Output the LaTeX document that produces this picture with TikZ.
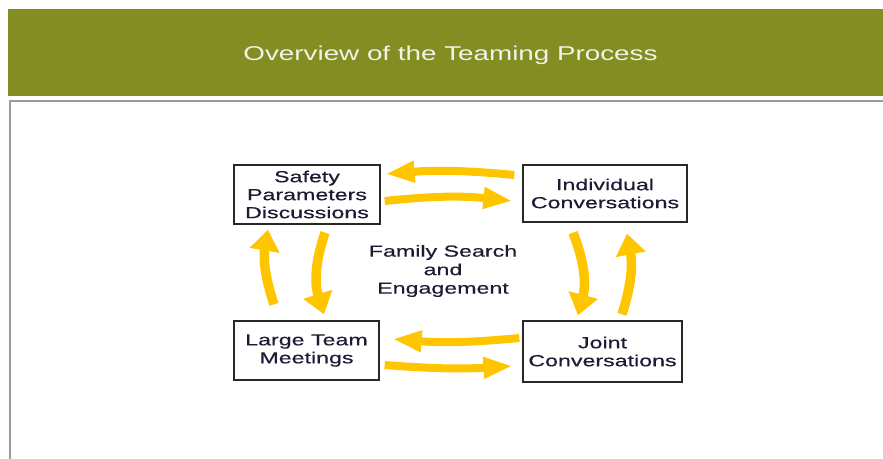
\documentclass[tikz,border=0pt]{standalone}
\usepackage{fontspec}
\newfontfamily\titlefont[FakeStretch=1.39]{Liberation Sans}
\newfontfamily\labelfont[FakeStretch=1.45,FakeBold=0.4]{Liberation Sans}
\usetikzlibrary{arrows.meta}
\usetikzlibrary{calc}
\usetikzlibrary{positioning}

\definecolor{bandgreen}{RGB}{131,141,34}
\definecolor{titletext}{RGB}{240,244,232}
\definecolor{framegray}{RGB}{155,155,155}
\definecolor{boxline}{RGB}{40,40,40}
\definecolor{ink}{RGB}{28,28,52}
\definecolor{gold}{RGB}{255,198,0}

\begin{document}
\begin{tikzpicture}[x=1pt,y=1pt,
    stage/.style={draw=boxline,line width=1.3pt,fill=white,text=ink,
        align=center,inner sep=0pt,minimum height=59pt,
        font=\labelfont\fontsize{16}{18}\selectfont},
    hflow/.style={draw=gold,line width=8pt,
        -{Triangle[length=29pt,width=20pt]}},
    vflow/.style={draw=gold,line width=9.5pt,
        -{Triangle[length=21pt,width=29pt]}}]
    \clip (0,0) rectangle (883,458);
    \fill [white] (0,0) rectangle (883,458);
    % Header band
    \fill [bandgreen] (8,362) rectangle (890,449);
    \node [font=\titlefont\fontsize{20}{24}\selectfont,text=titletext,
        anchor=base] (title) at (450.5,397.5)
        {Overview of the Teaming Process};
    % Content frame
    \draw [framegray,line width=2.2pt] (10,-20) |- (900,357);
    % The four stages
    \node [stage,minimum width=146pt] (safety) at (307,263.5)
        {Safety\\Parameters\\Discussions};
    \node [stage,minimum width=164pt,minimum height=57pt] (individual)
        at (605,264.5) {Individual\\Conversations};
    \node [stage,minimum width=145pt] (teams) at (306.5,107.5)
        {Large Team\\Meetings};
    \node [stage,minimum width=159pt,minimum height=61pt] (joint)
        at (602.5,106.5) {Joint\\Conversations};
    \node [font=\labelfont\fontsize{16}{18.5}\selectfont,text=ink,
        align=center] (search) at (443,187)
        {Family Search\\and\\Engagement};
    % Top pair
    \draw [hflow] ($(individual.west)+(-8,18.5)$) to[bend right=5]
        ($(safety.east)+(5,20.5)$);
    \draw [hflow] ($(safety.east)+(4,-6.5)$) to[bend left=6]
        ($(individual.west)+(-10,-7.5)$);
    % Left pair
    \draw [vflow] ($(teams.north)+(-32.5,16)$) to[bend left=14]
        ($(safety.south)+(-39,-5)$);
    \draw [vflow] ($(safety.south)+(18,-8)$) to[bend right=18]
        ($(teams.north)+(17.5,6)$);
    % Right pair
    \draw [vflow] ($(individual.south)+(-32,-10)$) to[bend left=18]
        ($(joint.north)+(-24.5,5)$);
    \draw [vflow] ($(joint.north)+(19.5,6)$) to[bend right=14]
        ($(individual.south)+(22,-11)$);
    % Bottom pair
    \draw [hflow] ($(joint.west)+(-3,13.5)$) to[bend left=5]
        ($(teams.east)+(13,11.5)$);
    \draw [hflow] ($(teams.east)+(5,-14.5)$) to[bend right=4]
        ($(joint.west)+(-10,-14.5)$);
\end{tikzpicture}
\end{document}
